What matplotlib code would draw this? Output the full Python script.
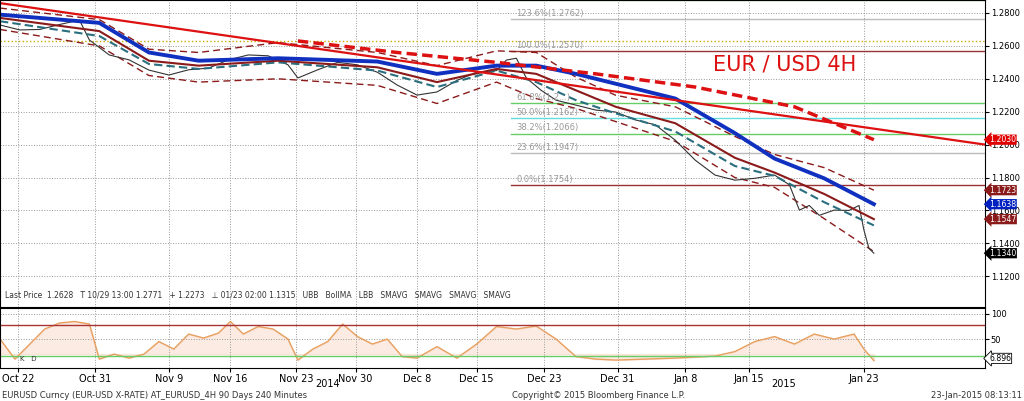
import matplotlib.pyplot as plt

# x positions are bar positions along the 4H time axis
tick_pos = [18, 96, 170, 232, 298, 358, 420, 480, 548, 622, 690, 754, 870]
tick_labels = ['Oct 22', 'Oct 31', 'Nov 9', 'Nov 16', 'Nov 23', 'Nov 30', 'Dec 8',
               'Dec 15', 'Dec 23', 'Dec 31', 'Jan 8', 'Jan 15', 'Jan 23']

price_x = [0, 20, 40, 60, 80, 90, 110, 130, 150, 170, 190, 210, 230, 250, 270, 290, 300,
           320, 340, 360, 380, 400, 420, 440, 460, 480, 500, 510, 520, 530, 545, 560, 580,
           600, 620, 640, 660, 680, 700, 720, 740, 760, 780, 795, 805, 815, 825, 840, 855,
           865, 870, 875, 880]
price = [1.2727, 1.2697, 1.2700, 1.2730, 1.2757, 1.2636, 1.2545, 1.2515, 1.2453, 1.2423,
         1.2455, 1.2465, 1.2515, 1.2545, 1.2540, 1.2485, 1.2405, 1.2455, 1.2500, 1.2485,
         1.2440, 1.2362, 1.2301, 1.2320, 1.2390, 1.2440, 1.2450, 1.2514, 1.2525, 1.2405,
         1.2330, 1.2270, 1.2240, 1.2210, 1.2198, 1.2150, 1.2120, 1.2027, 1.1906, 1.1815,
         1.1784, 1.1795, 1.1815, 1.1755, 1.1602, 1.1630, 1.1570, 1.1602, 1.1600, 1.1630,
         1.1480, 1.1370, 1.1340]

sma_x = [0, 100, 150, 200, 280, 380, 440, 500, 540, 580, 620, 680, 740, 780, 830, 880]
sma_blue = [1.2790, 1.2740, 1.2560, 1.2510, 1.2525, 1.2505, 1.2430, 1.2480, 1.2480, 1.2430,
            1.2370, 1.2280, 1.2070, 1.1915, 1.1795, 1.1638]
boll_ma = [1.2770, 1.2690, 1.2510, 1.2480, 1.2510, 1.2470, 1.2380, 1.2460, 1.2430, 1.2330,
           1.2230, 1.2130, 1.1920, 1.1830, 1.1700, 1.1547]
sma_teal = [1.2750, 1.2660, 1.2490, 1.2460, 1.2500, 1.2450, 1.2350, 1.2450, 1.2380, 1.2270,
            1.2190, 1.2080, 1.1870, 1.1810, 1.1650, 1.1509]
ubb = [1.2830, 1.2760, 1.2580, 1.2560, 1.2620, 1.2560, 1.2480, 1.2570, 1.2560, 1.2410,
       1.2300, 1.2230, 1.2050, 1.1940, 1.1860, 1.1723]
lbb = [1.2700, 1.2600, 1.2420, 1.2380, 1.2400, 1.2360, 1.2250, 1.2380, 1.2280, 1.2220,
       1.2140, 1.2020, 1.1800, 1.1740, 1.1550, 1.1350]

trend_x = [0, 992]
trend_y = [1.2860, 1.2000]
arc_x = [300, 400, 500, 600, 700, 800, 880]
arc_y = [1.2630, 1.2560, 1.2500, 1.2430, 1.2350, 1.2230, 1.2030]

fib_levels = [1.2880, 1.2762, 1.2570, 1.2250, 1.2162, 1.2066, 1.1947, 1.1754]
fib_labels = ['', '123.6%(1.2762)', '100.0%(1.2570)', '61.8%(1.2...)', '50.0%(1.2162)',
              '38.2%(1.2066)', '23.6%(1.1947)', '0.0%(1.1754)']
fib_colors = ['#66cc66', '#bbbbbb', '#993333', '#66cc66', '#66dddd', '#66cc66', '#bbbbbb', '#993333']

osc_x = [0, 15, 30, 45, 60, 75, 90, 100, 115, 130, 145, 160, 175, 190, 205, 220, 232, 245,
         260, 275, 290, 300, 315, 330, 345, 360, 375, 390, 405, 420, 440, 460, 480, 500,
         520, 540, 560, 580, 600, 620, 650, 680, 700, 720, 740, 760, 780, 800, 820, 840,
         860, 870, 880]
osc = [50, 10, 40, 70, 82, 85, 80, 10, 20, 12, 20, 45, 30, 60, 52, 62, 85, 60, 75, 70, 50,
       8, 30, 45, 80, 55, 40, 50, 15, 12, 35, 12, 40, 75, 70, 76, 50, 15, 10, 8, 10, 12,
       14, 16, 25, 45, 55, 40, 60, 50, 60, 30, 7]

levels_right = [(1.2030, '1.2030', '#e00000'), (1.1723, '1.1723', '#8b1a1a'),
                (1.1638, '1.1638', '#0020c0'), (1.1547, '1.1547', '#8b1a1a'),
                (1.1340, '1.1340', '#000000')]

fig = plt.figure(figsize=(10.24, 4.01), dpi=100)
ax = fig.add_axes([0.0, 0.234, 0.962, 0.766])
ax2 = fig.add_axes([0.0, 0.082, 0.962, 0.150], sharex=ax)

for lv, lab, c in zip(fib_levels, fib_labels, fib_colors):
    ax.plot([515, 992], [lv, lv], color=c, lw=1)
    if lab:
        ax.text(520, lv + 0.0008, lab, fontsize=6, color='#999999', va='bottom')
ax.axhline(1.2628, color='#ccaa00', lw=1, ls=':')

ax.plot(sma_x, ubb, color='#8b1a1a', lw=1, ls=(0, (5, 3)))
ax.plot(sma_x, lbb, color='#8b1a1a', lw=1, ls=(0, (5, 3)))
ax.plot(price_x, price, color='#333333', lw=0.8)
ax.plot(sma_x, sma_teal, color='#2a6f7f', lw=1.5, ls=(0, (4, 2)))
ax.plot(sma_x, boll_ma, color='#8b1a1a', lw=1.5)
ax.plot(sma_x, sma_blue, color='#1030c0', lw=2.8)
ax.plot(trend_x, trend_y, color='#dd1111', lw=1.6)
ax.plot(arc_x, arc_y, color='#dd1111', lw=2.5, ls=(0, (3, 1.5)))
ax.text(718, 1.2450, 'EUR / USD 4H', color='#dd1111', fontsize=15)

ax.set_xlim(0, 992)
ax.set_ylim(1.1012, 1.2879)
ax.yaxis.tick_right()
yt = [1.12, 1.14, 1.16, 1.18, 1.20, 1.22, 1.24, 1.26, 1.28]
ax.set_yticks(yt)
ax.set_yticklabels(['%.4f' % v for v in yt], fontsize=6)
ax.tick_params(axis='y', length=3, pad=1)
ax.set_xticks(tick_pos)
ax.tick_params(axis='x', labelbottom=False, length=0)
ax.grid(True, color='#999999', ls=':', lw=0.7)
for lv, lab, c in levels_right:
    ax.text(1.004, (lv - 1.1012) / (1.2879 - 1.1012), lab, transform=ax.transAxes,
            fontsize=5.6, color='white', va='center', clip_on=False,
            bbox=dict(boxstyle='larrow,pad=0.08', fc=c, ec='none'))
ax.text(0.005, 0.03, 'Last Price  1.2628   T 10/29 13:00 1.2771   + 1.2273   '
        '\u22a5 01/23 02:00 1.1315   UBB   BollMA   LBB   SMAVG   SMAVG   SMAVG   SMAVG',
        transform=ax.transAxes, fontsize=5.5, color='#333333')

ax2.plot(osc_x, osc, color='#e8a060', lw=1)
ax2.fill_between(osc_x, osc, 20, color='#f4c0a0', alpha=0.3)
ax2.axhline(78, color='#aa3333', lw=1)
ax2.axhline(16, color='#66cc66', lw=1)
ax2.set_ylim(-8, 112)
ax2.yaxis.tick_right()
ax2.set_yticks([50, 100])
ax2.set_yticklabels(['50', '100'], fontsize=6)
ax2.tick_params(axis='y', length=3, pad=1)
ax2.grid(True, color='#999999', ls=':', lw=0.7)
ax2.set_xticks(tick_pos)
ax2.set_xticklabels(tick_labels, fontsize=7)
ax2.tick_params(axis='x', length=3, pad=1)
ax2.text(1.004, 0.12, '6.896', transform=ax2.transAxes, fontsize=5.6,
         bbox=dict(boxstyle='larrow,pad=0.08', fc='white', ec='black', lw=0.6))
ax2.text(0.02, 0.12, 'K   D', transform=ax2.transAxes, fontsize=5, color='#333333')

fig.text(0.32, 0.042, '2014', fontsize=7, ha='center', va='center')
fig.text(0.765, 0.042, '2015', fontsize=7, ha='center', va='center')
fig.text(0.002, 0.008, 'EURUSD Curncy (EUR-USD X-RATE) AT_EURUSD_4H 90 Days 240 Minutes',
         fontsize=6, color='#333333')
fig.text(0.5, 0.008, 'Copyright\u00a9 2015 Bloomberg Finance L.P.', fontsize=6, color='#333333')
fig.text(0.998, 0.008, '23-Jan-2015 08:13:11', fontsize=6, color='#333333', ha='right')

fig.savefig('out.png', dpi=100)
